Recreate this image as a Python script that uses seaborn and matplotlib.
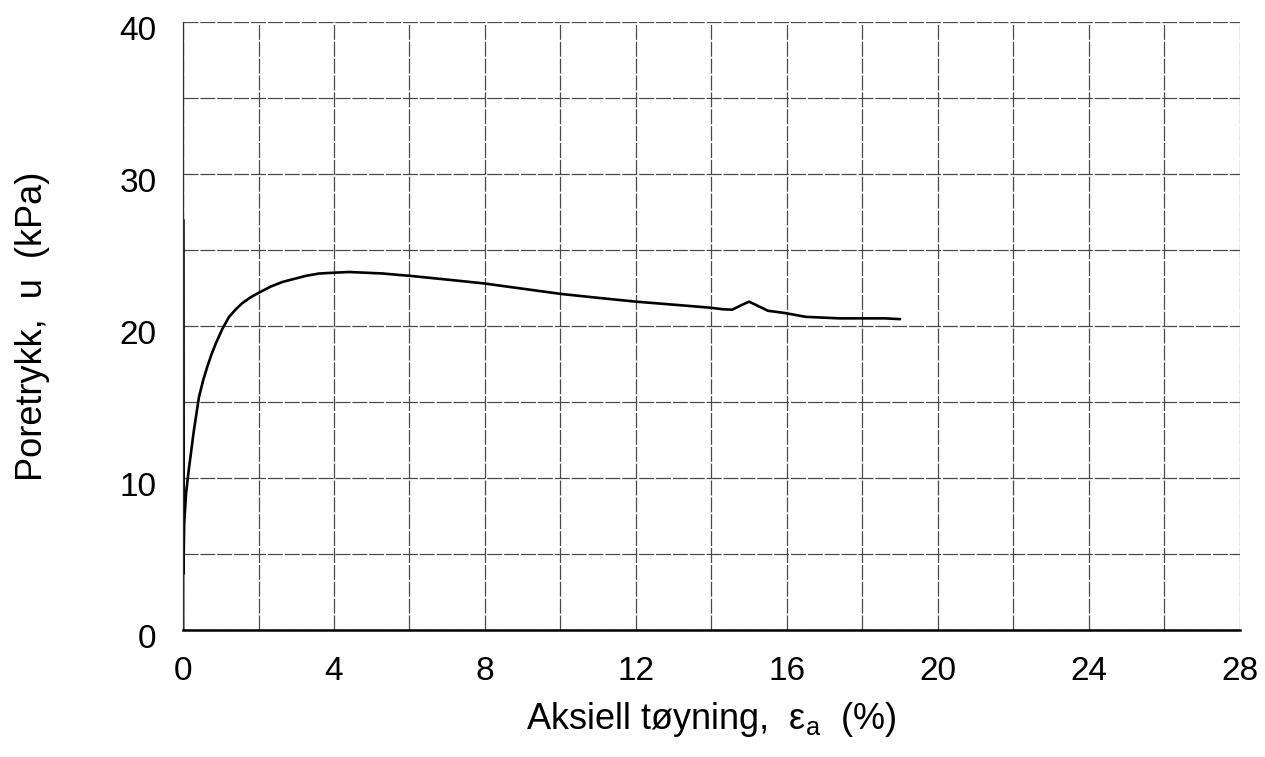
import matplotlib
matplotlib.use("Agg")
import matplotlib.pyplot as plt
import matplotlib.transforms as mtransforms
import numpy as np
import seaborn as sns

# strain (%) and pore pressure (kPa)
strain = [0.0, 0.0, 0.01, 0.03, 0.08, 0.15, 0.28, 0.42, 0.53, 0.64, 0.75, 0.86,
          1.04, 1.22, 1.4, 1.57, 1.8, 2.02, 2.33, 2.64, 2.95, 3.26, 3.6, 3.97,
          4.4, 4.86, 5.3, 5.75, 6.0, 7.0, 7.97, 9.0, 10.04, 11.0, 12.0, 13.0,
          13.98, 14.3, 14.55, 14.78, 15.0, 15.25, 15.5, 15.95, 16.5, 17.4,
          18.0, 18.6, 19.0]
pressure = [0.0, 27.0, 3.7, 7.0, 9.0, 10.5, 13.0, 15.3, 16.4, 17.3, 18.1, 18.8,
            19.8, 20.6, 21.1, 21.5, 21.9, 22.2, 22.6, 22.9, 23.1, 23.3, 23.45,
            23.5, 23.55, 23.5, 23.45, 23.35, 23.3, 23.05, 22.8, 22.45, 22.1,
            21.85, 21.6, 21.4, 21.2, 21.1, 21.07, 21.35, 21.6, 21.3, 21.0,
            20.85, 20.6, 20.5, 20.5, 20.5, 20.45]

xticks = [0, 4, 8, 12, 16, 20, 24, 28]
yticks = [0, 10, 20, 30, 40]

sns.set_style("white", {'text.color': 'black', 'axes.labelcolor': 'black',
                        'xtick.color': 'black', 'ytick.color': 'black'})
plt.rcParams['font.family'] = ['Liberation Sans', 'DejaVu Sans']
plt.rcParams['mathtext.fontset'] = 'custom'
plt.rcParams['mathtext.rm'] = 'Liberation Sans'

fig = plt.figure(figsize=(12.65, 7.57), dpi=100)
ax = fig.add_axes([0.1447, 0.1678, 0.8353, 0.8032])

sns.lineplot(x=strain, y=pressure, sort=False, estimator=None,
             color='black', linewidth=1.9, ax=ax)

ax.set_xlim(0, 28)
ax.set_ylim(0, 40)
ax.set_xticks(np.arange(0, 29, 2), minor=True)
ax.set_yticks(np.arange(0, 41, 5), minor=True)
ax.set_xticks(xticks)
ax.set_yticks(yticks)
ax.grid(which='both', color='#4a4a4a', linewidth=0.9, linestyle=(0, (12, 1.5)))
ax.set_axisbelow(True)

for side in ['top', 'right']:
    ax.spines[side].set_visible(False)
ax.spines['left'].set_linewidth(0.9)
ax.spines['left'].set_color('#333333')
ax.spines['bottom'].set_linewidth(1.8)
ax.spines['bottom'].set_color('black')

ax.tick_params(axis='x', which='both', length=0, pad=19, labelsize=24, labelcolor='black')
ax.tick_params(axis='y', which='both', length=0, pad=19, labelsize=24, labelcolor='black')

# y tick labels sit a little below their grid lines in the original
shift = mtransforms.ScaledTranslation(0, -6 / 100, fig.dpi_scale_trans)
for lab in ax.get_yticklabels():
    lab.set_transform(lab.get_transform() + shift)

ax.set_xlabel('Aksiell tøyning,  ε$_\\mathregular{a}$  (%)', fontsize=26, labelpad=9, color='black')
ax.set_ylabel('Poretrykk,  u  (kPa)', fontsize=26, labelpad=50, color='black')

fig.savefig('out.png', dpi=100)
